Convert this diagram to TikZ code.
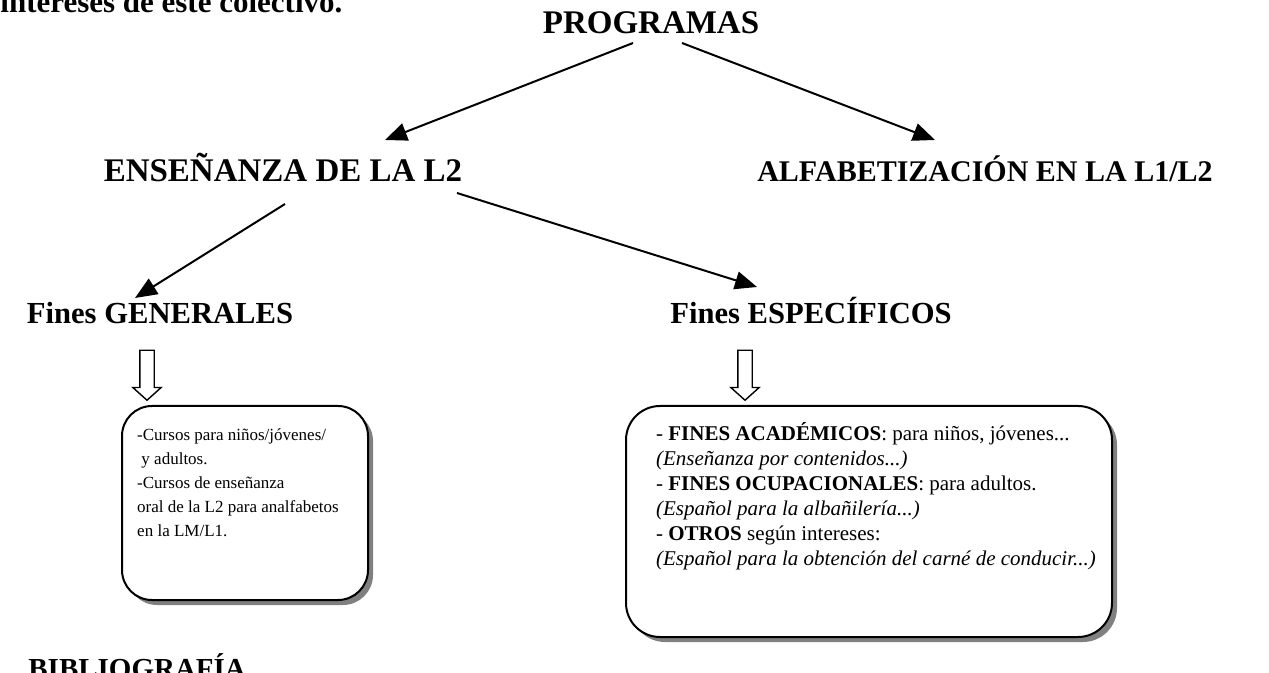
\documentclass[tikz,border=0pt]{standalone}
\usepackage{fontspec}
\setmainfont{Liberation Serif}
\usetikzlibrary{arrows.meta,shapes.arrows,shadows}
\begin{document}
\begin{tikzpicture}[x=0.5pt,y=-0.5pt,
    titulo/.style={font=\fontsize{16.5}{20}\selectfont\bfseries,inner sep=0pt,anchor=base},
    flecha/.style={-{Triangle[length=11pt,width=9pt]},line width=1pt},
    hueca/.style={draw,single arrow,rotate=-90,line width=0.7pt,inner xsep=0pt,inner ysep=3.25pt,
      minimum height=25pt,minimum width=13.5pt,single arrow head extend=3.5pt,single arrow tip angle=96},
    caja/.style={draw,line width=1pt,rounded corners=15pt,fill=white,inner sep=0pt,
      drop shadow={shadow xshift=2.5pt,shadow yshift=-2.5pt,fill=black!50,opacity=1}}]
  \useasboundingbox (0,0) rectangle (1269,673);
  \clip (0,0) rectangle (1269,673);
  \node[titulo,anchor=base west,font=\fontsize{15.5}{18}\selectfont\bfseries] (intro) at (0,13) {intereses de este colectivo.};
  \node[titulo] (prog) at (651,34) {PROGRAMAS};
  \node[titulo] (ensl2) at (283,182) {ENSEÑANZA DE LA L2};
  \node[titulo,font=\fontsize{15}{18}\selectfont\bfseries] (alfab) at (985,182) {ALFABETIZACIÓN EN LA L1/L2};
  \node[titulo,font=\fontsize{15.3}{18}\selectfont\bfseries] (fgen) at (160,324) {Fines GENERALES};
  \node[titulo,font=\fontsize{15.3}{18}\selectfont\bfseries] (fesp) at (811,324) {Fines ESPECÍFICOS};
  \node[hueca] (hgen) at (147,372) {};
  \node[hueca] (hesp) at (745,372) {};
  \node[caja,minimum width=123pt,minimum height=97pt,font=\fontsize{8.5}{12}\selectfont] (cgen) at (245,503)
    {\begin{tabular}{@{}l@{\hspace{7pt}}}
     -Cursos para niños/jóvenes/\\
     \hspace{0.25em}y adultos.\\
     -Cursos de enseñanza\\
     oral de la L2 para analfabetos\\
     en la LM/L1.\\[19pt]
     \end{tabular}};
  \node[caja,minimum width=243pt,minimum height=115.5pt,rounded corners=17pt,font=\fontsize{10.5}{12.5}\selectfont] (cesp) at (869,521.5)
    {\begin{tabular}{@{\hspace{7pt}}l@{}}
     - \textbf{FINES ACADÉMICOS}: para niños, jóvenes...\\
     \textit{(Enseñanza por contenidos...)}\\
     - \textbf{FINES OCUPACIONALES}: para adultos.\\
     \textit{(Español para la albañilería...)}\\
     - \textbf{OTROS} según intereses:\\
     \textit{(Español para la obtención del carné de conducir...)}\\[24pt]
     \end{tabular}};
  \node[titulo,anchor=base west,font=\fontsize{14.5}{18}\selectfont\bfseries] (biblio) at (28,678) {BIBLIOGRAFÍA};
  \draw[flecha] ([xshift=-9pt,yshift=-4.5pt]prog.base) -- ([xshift=51pt,yshift=21pt]ensl2.base);
  \draw[flecha] ([xshift=15.5pt,yshift=-4.5pt]prog.base) -- ([xshift=-25pt,yshift=21pt]alfab.base);
  \draw[flecha] ([xshift=1pt,yshift=-11pt]ensl2.base) -- ([xshift=-12.5pt,yshift=13pt]fgen.base);
  \draw[flecha] ([xshift=87pt,yshift=-5.5pt]ensl2.base) -- ([xshift=-27pt,yshift=18.5pt]fesp.base);
\end{tikzpicture}
\end{document}
